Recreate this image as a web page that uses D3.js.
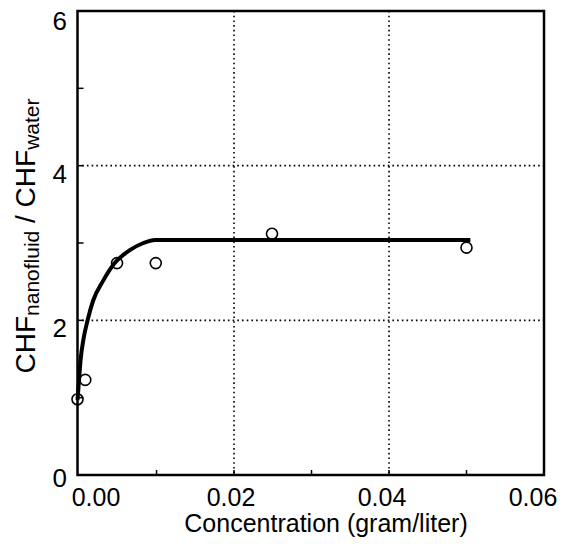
<!DOCTYPE html>
<html><head><meta charset="utf-8">
<script src="https://cdn.jsdelivr.net/npm/d3@7"></script>
<style>html,body{margin:0;padding:0;background:#fff;}svg{display:block;}</style>
</head><body><div id="chart"></div>
<script>
// Measured points (concentration g/L, CHF ratio)
const pointX = [-0.0002, 0.0008, 0.0049, 0.0099, 0.0249, 0.0500];
const pointY = [0.98, 1.23, 2.74, 2.74, 3.12, 2.94];
// Fitted curve
const curveX = [-0.0002, 0.0000, 0.0002, 0.00056, 0.0011, 0.0018, 0.0031, 0.0046, 0.0066, 0.0083, 0.0098, 0.0200, 0.0350, 0.0505];
const curveY = [0.97, 1.23, 1.49, 1.75, 2.0, 2.25, 2.51, 2.74, 2.91, 3.0, 3.04, 3.04, 3.04, 3.04];
const xTickLabels = ["0.00", "0.02", "0.04", "0.06"];
const xTickValues = [0, 0.02, 0.04, 0.06];
const yTickLabels = ["0", "2", "4", "6"];
const yTickValues = [0, 2, 4, 6];
const xGrid = [0.02, 0.04];
const yGrid = [2, 4];
const xMinor = [0.01, 0.02, 0.03, 0.04, 0.05];
const yMinor = [1, 2, 3, 4, 5];

const W = 563, H = 544;
const L = 77.5, R = 544, T = 11, B = 475;
const svg = d3.select("#chart").append("svg").attr("width", W).attr("height", H);
const x = d3.scaleLinear().domain([-0.0002, 0.06]).range([L, R]);
const y = d3.scaleLinear().domain([0, 6]).range([B, T]);
const font = "Liberation Sans, Arial, Helvetica, sans-serif";

// grid
svg.append("g").selectAll("line").data(xGrid).join("line")
  .attr("x1", d => x(d)).attr("x2", d => x(d)).attr("y1", T).attr("y2", B)
  .attr("stroke", "#000").attr("stroke-width", 1.6).attr("stroke-dasharray", "1.6,3.1");
svg.append("g").selectAll("line").data(yGrid).join("line")
  .attr("y1", d => y(d)).attr("y2", d => y(d)).attr("x1", L).attr("x2", R)
  .attr("stroke", "#000").attr("stroke-width", 1.6).attr("stroke-dasharray", "1.6,3.1");

// ticks (inward)
svg.append("g").selectAll("line").data(xMinor).join("line")
  .attr("x1", d => x(d)).attr("x2", d => x(d)).attr("y1", B).attr("y2", B - 5)
  .attr("stroke", "#000").attr("stroke-width", 1.5);
svg.append("g").selectAll("line").data(yMinor).join("line")
  .attr("y1", d => y(d)).attr("y2", d => y(d)).attr("x1", L).attr("x2", L + 6)
  .attr("stroke", "#000").attr("stroke-width", 1.5);

// frame
svg.append("rect").attr("x", L).attr("y", T).attr("width", R - L).attr("height", B - T)
  .attr("fill", "none").attr("stroke", "#000").attr("stroke-width", 2.5);

// curve
const line = d3.line().x(d => x(d[0])).y(d => y(d[1])).curve(d3.curveMonotoneX);
svg.append("path").datum(curveX.map((v, i) => [v, curveY[i]]))
  .attr("d", line).attr("fill", "none").attr("stroke", "#000").attr("stroke-width", 4)
  .attr("stroke-linejoin", "round");

// points
svg.append("g").selectAll("circle").data(pointX.map((v, i) => [v, pointY[i]])).join("circle")
  .attr("cx", d => x(d[0])).attr("cy", d => y(d[1])).attr("r", 5.5)
  .attr("fill", "none").attr("stroke", "#000").attr("stroke-width", 1.6);

// x tick labels
const xdx = [17, -3, -7, -11];
svg.append("g").selectAll("text").data(xTickValues).join("text")
  .attr("x", (d, i) => x(d) + xdx[i]).attr("y", 506)
  .attr("text-anchor", "middle").attr("font-family", font).attr("font-size", 25)
  .text((d, i) => xTickLabels[i]);
// y tick labels
const ydy = [12, 17, 17, 19];
svg.append("g").selectAll("text").data(yTickValues).join("text")
  .attr("x", 67).attr("y", (d, i) => y(d) + ydy[i])
  .attr("text-anchor", "end").attr("font-family", font).attr("font-size", 26)
  .text((d, i) => yTickLabels[i]);

// x title
svg.append("text").attr("x", 326).attr("y", 532).attr("text-anchor", "middle")
  .attr("font-family", font).attr("font-size", 25).text("Concentration (gram/liter)");

// y title
const yt = svg.append("text").attr("transform", "translate(35,236) rotate(-90)")
  .attr("text-anchor", "middle").attr("font-family", font).attr("font-size", 28);
yt.append("tspan").text("CHF");
yt.append("tspan").attr("font-size", 21).attr("dy", 4).text("nanofluid");
yt.append("tspan").attr("dy", -4).text(" / CHF");
yt.append("tspan").attr("font-size", 21).attr("dy", 4).text("water");
</script></body></html>
